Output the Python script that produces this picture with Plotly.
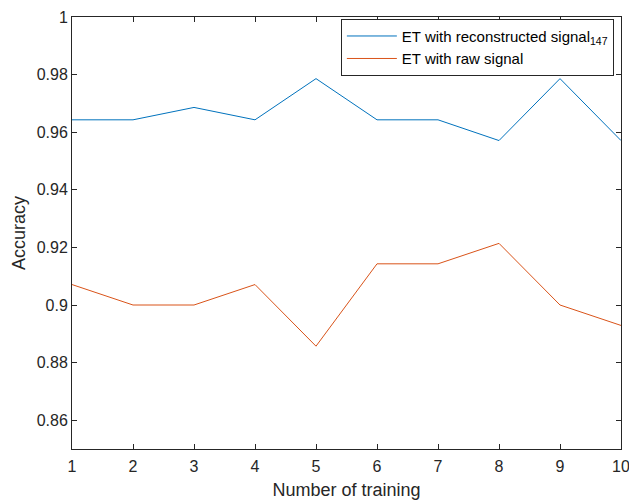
import plotly.graph_objects as go

x_vals = [1, 2, 3, 4, 5, 6, 7, 8, 9, 10]
reconstructed = [0.9643, 0.9643, 0.9686, 0.9643, 0.9786, 0.9643, 0.9643, 0.9571, 0.9786, 0.9571]
raw = [0.9071, 0.9000, 0.9000, 0.9071, 0.8857, 0.9143, 0.9143, 0.9214, 0.9000, 0.8929]
x_ticks = [1, 2, 3, 4, 5, 6, 7, 8, 9, 10]
y_ticks = [0.86, 0.88, 0.90, 0.92, 0.94, 0.96, 0.98, 1.0]
y_tick_text = ["0.86", "0.88", "0.9", "0.92", "0.94", "0.96", "0.98", "1"]

FONT = "Liberation Sans, Arial"
DARK = "#262626"

fig = go.Figure()
fig.add_trace(go.Scatter(x=x_vals, y=reconstructed, mode="lines",
                         line=dict(color="#0072BD", width=1),
                         name="ET with reconstructed signal<sub>147</sub>"))
fig.add_trace(go.Scatter(x=x_vals, y=raw, mode="lines",
                         line=dict(color="#D95319", width=1),
                         name="ET with raw signal"))

axis_common = dict(showgrid=False, zeroline=False, showline=True, linecolor=DARK,
                   linewidth=1, mirror="ticks", ticks="inside", ticklen=5,
                   tickcolor=DARK, tickfont=dict(family=FONT, size=16, color=DARK),
                   ticklabeloverflow="allow")

fig.update_xaxes(range=[1, 10], tickvals=x_ticks, ticklabelstandoff=3,
                 title=dict(text="Number of training",
                            font=dict(family=FONT, size=18, color=DARK), standoff=9),
                 **axis_common)
fig.update_yaxes(range=[0.85, 1.0], tickvals=y_ticks, ticktext=y_tick_text,
                 title=dict(text="Accuracy", font=dict(family=FONT, size=18, color=DARK), standoff=6),
                 **axis_common)

fig.update_layout(
    width=629, height=501,
    margin=dict(l=72, r=8, t=17, b=52, autoexpand=False),
    plot_bgcolor="white", paper_bgcolor="white",
    showlegend=True,
    legend=dict(x=0.987, y=0.996, xanchor="right", yanchor="top",
                bgcolor="white", bordercolor=DARK, borderwidth=1,
                font=dict(family=FONT, size=15, color="#000000"),
                itemwidth=50, tracegroupgap=0),
)

fig.write_html("out.html")
